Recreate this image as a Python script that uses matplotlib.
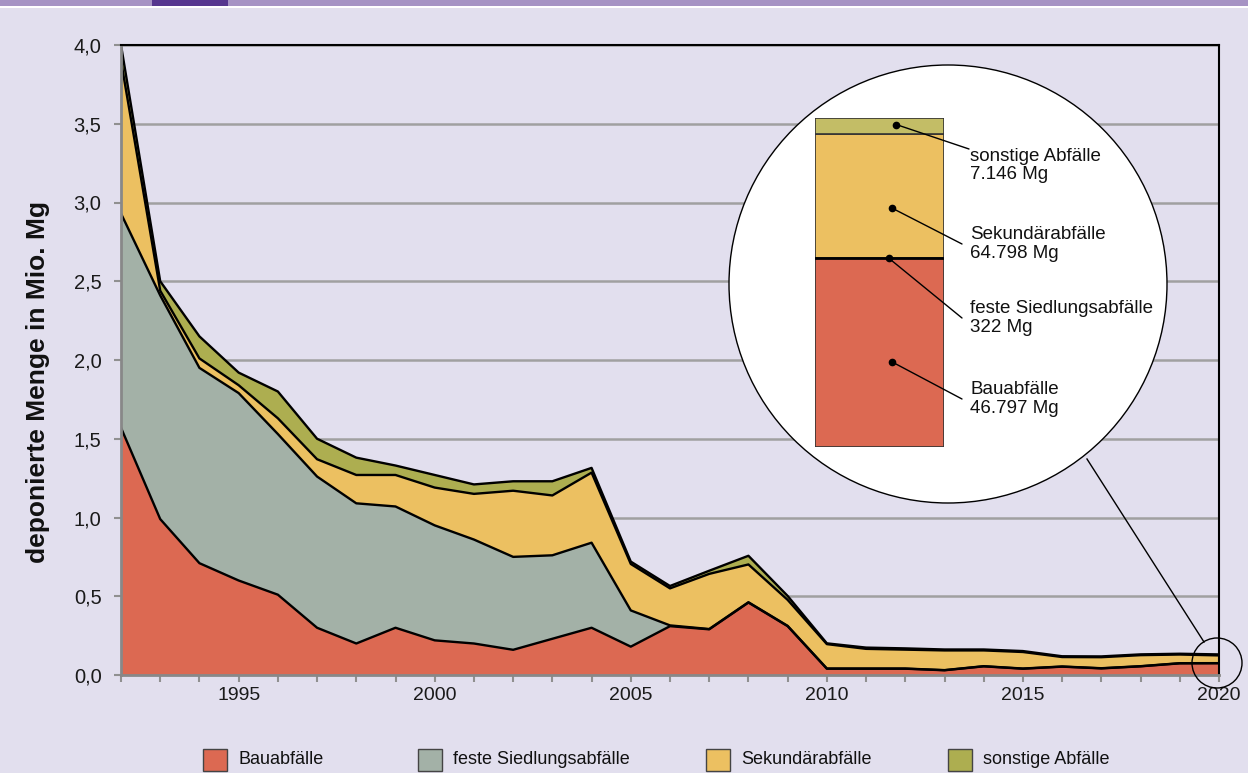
import numpy as np
import matplotlib
matplotlib.use("Agg")
import matplotlib.pyplot as plt
from matplotlib.patches import Rectangle, Ellipse
from matplotlib.lines import Line2D
from matplotlib.ticker import FuncFormatter, MultipleLocator

plt.rcParams['font.family'] = ['Liberation Sans', 'DejaVu Sans']

# data (Mio. Mg)
years = list(range(1992, 2021))
bau = [1.57, 0.99, 0.71, 0.60, 0.51, 0.30, 0.20, 0.30, 0.22, 0.20,
       0.16, 0.23, 0.30, 0.18, 0.31, 0.29, 0.46, 0.31, 0.04, 0.04,
       0.04, 0.03, 0.055, 0.04, 0.053, 0.042, 0.055, 0.074, 0.075]
siedlung = [1.36, 1.42, 1.24, 1.19, 1.02, 0.96, 0.89, 0.77, 0.73, 0.66,
            0.59, 0.53, 0.54, 0.23, 0.005, 0.002, 0.002, 0.002, 0.001, 0.001,
            0.001, 0.001, 0.001, 0.001, 0.001, 0.001, 0.001, 0.001, 0.0003]
sekundaer = [0.97, 0.03, 0.06, 0.05, 0.10, 0.11, 0.18, 0.20, 0.24, 0.29,
             0.42, 0.38, 0.445, 0.295, 0.235, 0.35, 0.24, 0.165, 0.155, 0.125,
             0.12, 0.125, 0.10, 0.105, 0.06, 0.07, 0.07, 0.055, 0.049]
sonstige = [0.10, 0.06, 0.14, 0.08, 0.17, 0.13, 0.11, 0.06, 0.08, 0.06,
            0.06, 0.09, 0.03, 0.015, 0.015, 0.02, 0.055, 0.025, 0.005, 0.008,
            0.008, 0.006, 0.006, 0.006, 0.005, 0.005, 0.005, 0.005, 0.0065]

labels = ['Bauabfälle', 'feste Siedlungsabfälle', 'Sekundärabfälle', 'sonstige Abfälle']
colors = ['#dc6952', '#a3b1a7', '#ecc061', '#adae50']

# 2020 detail (inset)
inset_amounts = ['46.797 Mg', '322 Mg', '64.798 Mg', '7.146 Mg']

W, H = 1248, 773
bg = '#e2dfee'


def px(x, y):
    return (x / W, 1 - y / H)


fig = plt.figure(figsize=(W / 100, H / 100), dpi=100, facecolor=bg)

# header strip
fig.add_artist(Rectangle(px(0, 6), 1, 6 / H, transform=fig.transFigure,
                         color='#a693c4', lw=0))
fig.add_artist(Rectangle(px(152, 6), 76 / W, 6 / H, transform=fig.transFigure,
                         color='#56368f', lw=0))
fig.add_artist(Rectangle(px(0, 8), 1, 2 / H, transform=fig.transFigure,
                         color='white', lw=0))

ax = fig.add_axes([121 / W, 1 - 675 / H, 1098 / W, 630 / H])
ax.set_facecolor(bg)
series = [bau, siedlung, sekundaer, sonstige]
ax.stackplot(years, *series, colors=colors, lw=0)
cum = np.cumsum(np.array(series), axis=0)
for row in cum:
    ax.plot(years, row, color='black', lw=1.7, solid_joinstyle='round')

ax.set_xlim(1992, 2020)
ax.set_ylim(0, 4)
ax.yaxis.set_major_locator(MultipleLocator(0.5))
ax.yaxis.set_major_formatter(FuncFormatter(lambda v, p: f'{v:.1f}'.replace('.', ',')))
ax.set_xticks(years)
ax.set_xticklabels([str(y) if y % 5 == 0 else '' for y in years])
ax.grid(axis='y', color='#a0a0a0', lw=1.8)
ax.set_axisbelow(True)
ax.tick_params(axis='y', length=5, width=1.5, color='#909090', pad=9,
               labelsize=14.5, labelcolor='#1a1a1a')
ax.tick_params(axis='x', length=5, width=1.5, color='#909090', pad=4,
               labelsize=14, labelcolor='#1a1a1a')
for s in ['left', 'bottom']:
    ax.spines[s].set_color('#888888')
    ax.spines[s].set_linewidth(2)
for s in ['top', 'right']:
    ax.spines[s].set_color('black')
    ax.spines[s].set_linewidth(1.5)

ax.set_ylabel('deponierte Menge in Mio. Mg', fontsize=19, fontweight='bold',
              va='center', color='#111111')
ax.yaxis.set_label_coords(-0.0756, 0.465)

# magnifier: small circle around 2020, connector, big circle
fig.add_artist(Ellipse(px(1217, 663), 50 / W, 50 / H, transform=fig.transFigure,
                       fill=False, ec='black', lw=1, zorder=5))
fig.add_artist(Line2D([1087 / W, 1204 / W], [1 - 459 / H, 1 - 642 / H],
                      transform=fig.transFigure, color='black', lw=1, zorder=5))
fig.add_artist(Ellipse(px(948, 284), 438 / W, 438 / H, transform=fig.transFigure,
                       fc='white', ec='black', lw=1, zorder=5))

# inset stacked bar of 2020 values
iax = fig.add_axes([815 / W, 1 - 447 / H, 129 / W, 329 / H], zorder=6)
iax.set_facecolor('none')
vals = [s[-1] for s in series]
inset_colors = ['#dc6952', '#a3b1a7', '#ecc061', '#c3bd66']
bottom = 0
for v, c in zip(vals, inset_colors):
    iax.bar(0, v, bottom=bottom, width=1, color=c, ec='#333333', lw=1.2)
    bottom += v
iax.axhline(vals[0], color='black', lw=2)
iax.set_xlim(-0.5, 0.5)
iax.set_ylim(0, bottom)
iax.axis('off')

b = np.concatenate([[0], np.cumsum(vals)])
anchors = [(0.1, b[0] + 0.45 * vals[0]),
           (0.07, b[1] + vals[1] / 2),
           (0.1, b[2] + 0.4 * vals[2]),
           (0.13, b[3] + 0.6 * vals[3])]
text_pos = [(962, 399, 'center'), (962, 318, 'center'), (962, 244, 'center'),
            (969, 149, 'top')]
for lab, amt, (xa, ya), (tx, ty, va) in zip(labels, inset_amounts, anchors, text_pos):
    iax.plot(xa, ya, 'o', color='black', ms=4.5, clip_on=False)
    iax.annotate('', xy=(xa, ya), xytext=(tx, H - ty), textcoords='figure pixels',
                 arrowprops=dict(arrowstyle='-', color='black', lw=1,
                                 shrinkA=0, shrinkB=0))
    fig.text(970 / W, 1 - ty / H if va == 'center' else 1 - (ty - 1) / H,
             f'{lab}\n{amt}', fontsize=13.5, va=va, ha='left', color='#111111',
             linespacing=1.1, zorder=7)

# legend
leg_x = [203, 418, 706, 948]
for x, lab, c in zip(leg_x, labels, colors):
    fig.add_artist(Rectangle(px(x, 771), 24 / W, 22 / H, transform=fig.transFigure,
                             fc=c, ec='#444444', lw=1))
    fig.text((x + 35) / W, 1 - 760 / H, lab, fontsize=13, va='center', ha='left',
             color='#111111')

fig.savefig('out.png', dpi=100, facecolor=bg)
